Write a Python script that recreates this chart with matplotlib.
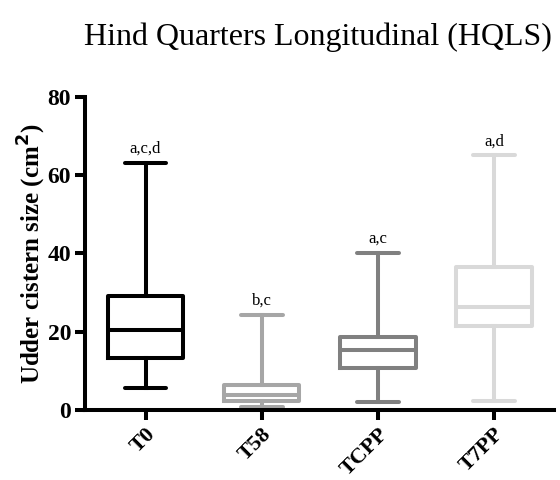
import matplotlib
matplotlib.use('Agg')
import matplotlib.pyplot as plt

# box plot of udder cistern size, whiskers = min/max #

groups = ['T0', 'T58', 'TCPP', 'T7PP']
mins = [5.6, 0.85, 1.9, 2.4]
q1 = [13.3, 2.4, 10.6, 21.5]
medians = [20.5, 3.8, 15.2, 26.4]
q3 = [29.2, 6.4, 18.7, 36.6]
maxs = [63.2, 24.3, 40.2, 65.1]
letters = ['a,c,d', 'b,c', 'a,c', 'a,d']
colors = ['#000000', '#a6a6a6', '#808080', '#d9d9d9']

plt.rcParams['font.family'] = ['Liberation Serif', 'DejaVu Serif']

stats = []
for i, g in enumerate(groups):
    stats.append({'label': g, 'whislo': mins[i], 'q1': q1[i], 'med': medians[i],
                  'q3': q3[i], 'whishi': maxs[i], 'fliers': []})

fig = plt.figure(figsize=(5.6, 4.8), dpi=100)
ax = fig.add_axes([0.152, 0.146, 0.838, 0.652])

lw = 2.9
for i, s in enumerate(stats):
    c = colors[i]
    ax.bxp([s], positions=[i], widths=0.65, showfliers=False,
           boxprops=dict(color=c, linewidth=lw),
           medianprops=dict(color=c, linewidth=lw),
           whiskerprops=dict(color=c, linewidth=lw),
           capprops=dict(color=c, linewidth=lw, solid_capstyle='round'),
           capwidths=0.36)
    ax.text(i, maxs[i] + 1.5, letters[i], ha='center', va='bottom', fontsize=12)

ax.set_xlim(-0.52, 3.52)
ax.set_ylim(0, 80)
ax.set_yticks([0, 20, 40, 60, 80])
ax.set_xticks(range(len(groups)))
ax.set_xticklabels(groups, rotation=45, ha='right', rotation_mode='anchor',
                   fontsize=16, fontweight='bold')
for lab in ax.get_yticklabels():
    lab.set_fontsize(17)
    lab.set_fontweight('bold')

ax.spines['top'].set_visible(False)
ax.spines['right'].set_visible(False)
ax.spines['left'].set_linewidth(lw)
ax.spines['bottom'].set_linewidth(lw)
ax.tick_params(width=lw, length=7, direction='out', pad=3)

ax.set_ylabel('Udder cistern size (cm$^\\mathbf{2}$)', fontsize=18, fontweight='bold', labelpad=0)
fig.text(0.568, 0.923, 'Hind Quarters Longitudinal (HQLS)', ha='center', va='center', fontsize=23)

fig.savefig('out.png', dpi=100)
